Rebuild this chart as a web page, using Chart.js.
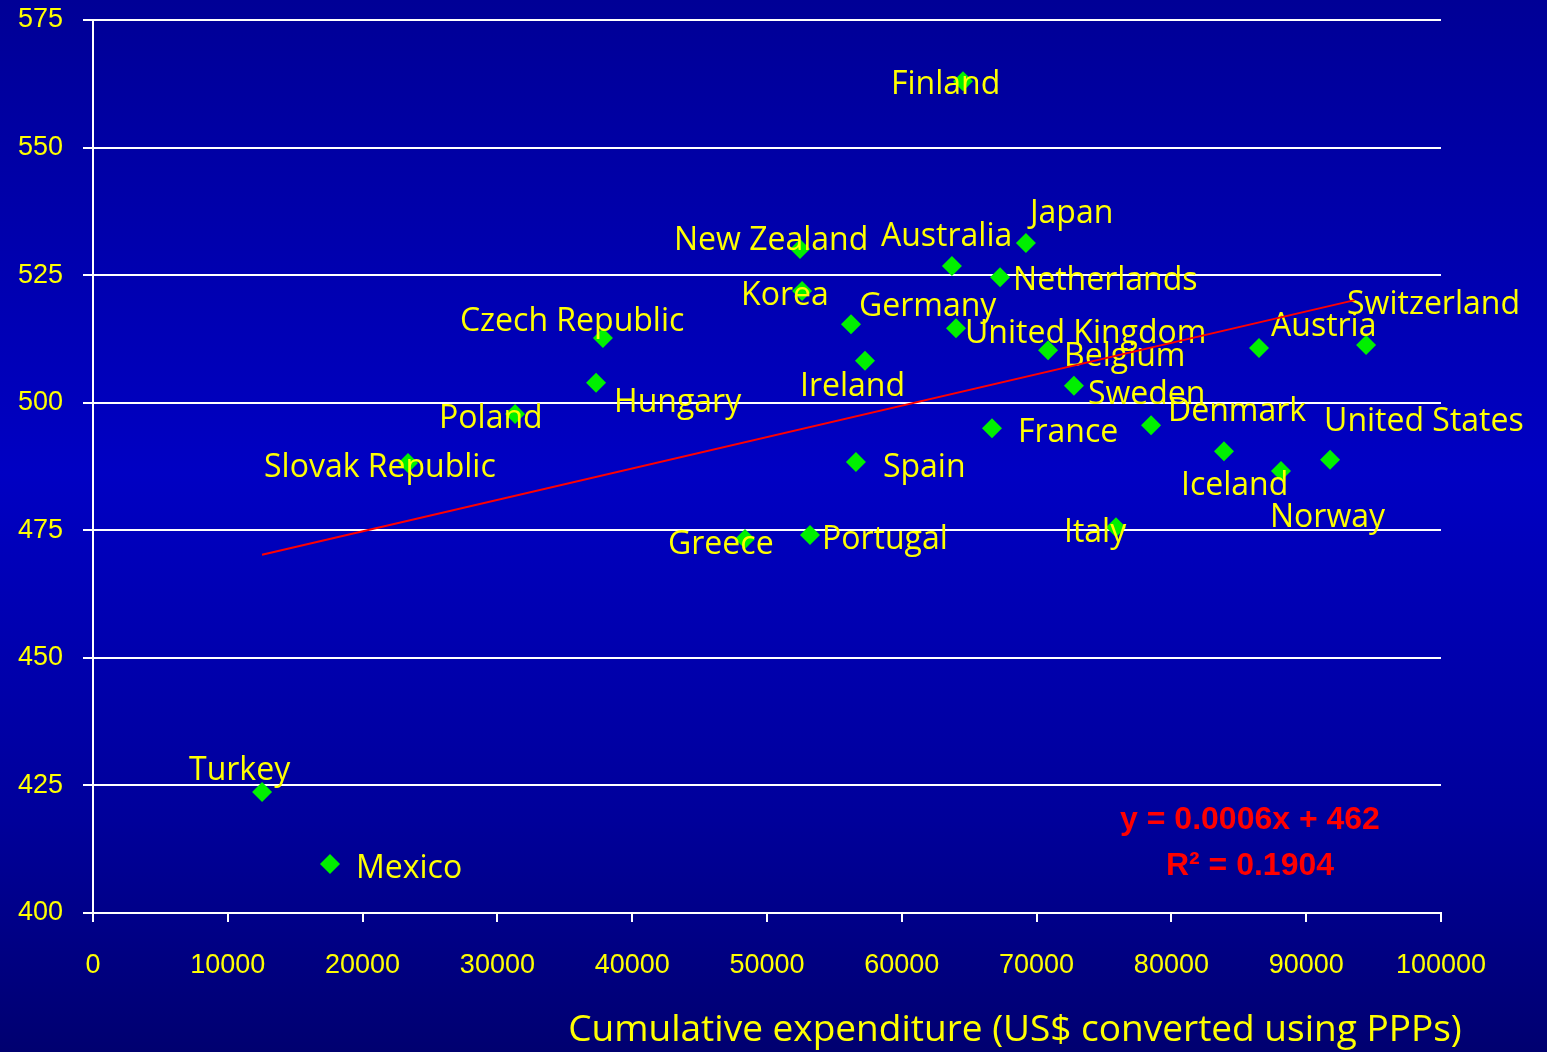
<!DOCTYPE html>
<html>
<head>
<meta charset="utf-8">
<title>Cumulative expenditure vs score</title>
<script src="https://cdn.jsdelivr.net/npm/chart.js@4.4.1/dist/chart.umd.min.js"></script>
<style>
  html, body {
    margin: 0;
    padding: 0;
  }
  body {
    width: 1547px;
    height: 1052px;
    overflow: hidden;
    background: linear-gradient(to bottom, #000096 0%, #0000c3 45%, #00009a 78%, #000070 100%);
  }
  #wrap {
    position: relative;
    width: 1547px;
    height: 1052px;
  }
</style>
</head>
<body>
<div id="wrap"><canvas id="myChart"></canvas></div>
<script>
'use strict';

/** @desc Countries shown in the scatter */
const COUNTRIES = [
  'Finland', 'Japan', 'New Zealand', 'Australia', 'Netherlands', 'Korea',
  'Germany', 'United Kingdom', 'Czech Republic', 'Ireland', 'Belgium',
  'Hungary', 'Sweden', 'Austria', 'Switzerland', 'Poland', 'Denmark',
  'France', 'Iceland', 'United States', 'Norway', 'Slovak Republic',
  'Spain', 'Greece', 'Portugal', 'Italy', 'Turkey', 'Mexico'
];

/** @desc Cumulative expenditure (US$ converted using PPPs) */
const EXPENDITURE = [
  64540, 69210, 52450, 63720, 67290, 52600,
  56230, 64020, 37830, 57270, 70850,
  37320, 72770, 86500, 94440, 31310, 78490,
  66690, 83900, 91770, 88130, 23370,
  56600, 48370, 53190, 75890, 12540, 17580
];

/** @desc Mean score */
const SCORES = [
  563.0, 531.3, 530.1, 526.8, 524.6, 521.9,
  515.4, 514.6, 512.7, 508.2, 510.3,
  503.9, 503.3, 510.7, 511.3, 497.8, 495.6,
  495.0, 490.5, 488.8, 486.6, 488.2,
  488.4, 473.3, 474.1, 475.6, 423.7, 409.6
];

/** @desc Linear trend line end points */
const TREND_X = [12540, 93600];
const TREND_Y = [470.2, 520.1];

/** @desc Tick values of both axes */
const X_TICKS = [0, 10000, 20000, 30000, 40000, 50000, 60000, 70000, 80000, 90000, 100000];
const Y_TICKS = [400, 425, 450, 475, 500, 525, 550, 575];

/** @desc Texts */
const X_TITLE = 'Cumulative expenditure (US$ converted using PPPs)';
const EQUATION = ['y = 0.0006x + 462', 'R² = 0.1904'];



/** @desc Pixel offset of every label from its point (left edge, middle) */
const LABEL_OFFSETS = {
  'Finland': [-72, 1], 'Japan': [4, -32], 'New Zealand': [-126, -11],
  'Australia': [-71, -32], 'Netherlands': [13, 1], 'Korea': [-61, 2],
  'Germany': [8, -20], 'United Kingdom': [9, 3], 'Czech Republic': [-143, -19],
  'Ireland': [-65, 23], 'Belgium': [16, 4], 'Hungary': [18, 17],
  'Sweden': [14, 6], 'Austria': [12, -24], 'Switzerland': [-19, -43],
  'Poland': [-76, 2], 'Denmark': [17, -16], 'France': [26, 2],
  'Iceland': [-43, 32], 'United States': [-6, -41], 'Norway': [-11, 44],
  'Slovak Republic': [-144, 2], 'Spain': [27, 3], 'Greece': [-77, 3],
  'Portugal': [12, 2], 'Italy': [-52, 3], 'Turkey': [-73, -24],
  'Mexico': [26, 2]
};

/** @desc Open Sans sits a little high with a middle baseline */
const LABEL_SHIFT_Y = 3;

const YELLOW = '#ffff00';
const LABEL_FONT = '32px "Open Sans"';

/** @desc Draws the country names right after the scatter points */
const LABELS_PLUGIN = {
  id: 'countryLabels',
  afterDatasetDraw(chart, args) {
    if (args.index !== 0) {
      return;
    }
    const ctx = chart.ctx;
    ctx.save();
    ctx.font = LABEL_FONT;
    ctx.fillStyle = YELLOW;
    ctx.textAlign = 'left';
    ctx.textBaseline = 'middle';
    args.meta.data.forEach((point, i) => {
      const name = COUNTRIES[i];
      const off = LABEL_OFFSETS[name] || [10, 0];
      ctx.fillText(name, point.x + off[0], point.y + off[1] + LABEL_SHIFT_Y);
    });
    ctx.restore();
  },
  afterDraw(chart) {
    const ctx = chart.ctx;
    ctx.save();
    ctx.fillStyle = YELLOW;
    ctx.font = '37px "Open Sans"';
    ctx.textAlign = 'center';
    ctx.textBaseline = 'middle';
    ctx.fillText(X_TITLE, 1015, 1030);
    ctx.fillStyle = '#ff0000';
    ctx.font = 'bold 32px "Liberation Sans"';
    ctx.fillText(EQUATION[0], 1250, 820);
    ctx.fillText(EQUATION[1], 1250, 866);
    ctx.restore();
  }
};

const DATA = {
  datasets: [{
    type: 'scatter',
    label: 'Countries',
    data: EXPENDITURE.map((x, i) => ({x: x, y: SCORES[i]})),
    pointStyle: 'rectRot',
    pointRadius: 10,
    pointHoverRadius: 10,
    backgroundColor: '#00f000',
    borderColor: '#00f000',
    borderWidth: 0,
    order: 2
  }, {
    type: 'line',
    label: 'Trend',
    data: TREND_X.map((x, i) => ({x: x, y: TREND_Y[i]})),
    borderColor: '#ff0000',
    borderWidth: 2,
    pointRadius: 0,
    fill: false,
    order: 1
  }]
};

const SCALES = {
  x: {
    type: 'linear',
    min: 0,
    max: 100000,
    afterBuildTicks: (scale) => {
      scale.ticks = X_TICKS.map((v) => ({value: v}));
    },
    afterFit: (scale) => {
      scale.height = 139;
      scale.paddingLeft = 0;
      scale.paddingRight = 0;
    },
    grid: {
      drawOnChartArea: false,
      drawTicks: true,
      tickLength: 9,
      color: '#ffffff',
      lineWidth: 2
    },
    border: {
      color: '#ffffff',
      width: 2
    },
    ticks: {
      color: YELLOW,
      padding: 27,
      maxRotation: 0,
      autoSkip: false,
      font: {family: '"Liberation Sans"', size: 27},
      callback: (value) => String(value)
    }
  },
  y: {
    type: 'linear',
    min: 400,
    max: 575,
    afterBuildTicks: (scale) => {
      scale.ticks = Y_TICKS.map((v) => ({value: v}));
    },
    afterFit: (scale) => {
      scale.width = 93;
      scale.paddingTop = 0;
      scale.paddingBottom = 0;
    },
    grid: {
      color: '#ffffff',
      lineWidth: 2,
      tickLength: 10
    },
    border: {
      color: '#ffffff',
      width: 2
    },
    ticks: {
      color: YELLOW,
      padding: 20,
      font: {family: '"Liberation Sans"', size: 27}
    }
  }
};

const OPTIONS = {
  responsive: true,
  maintainAspectRatio: false,
  animation: false,
  layout: {
    padding: {left: 0, top: 20, right: 106, bottom: 0}
  },
  plugins: {
    legend: {display: false},
    tooltip: {enabled: false}
  },
  scales: SCALES
};

const CTX = document.getElementById('myChart').getContext('2d');

let myChart = new Chart(CTX, {
  data: DATA,
  options: OPTIONS,
  plugins: [LABELS_PLUGIN]
});
</script>
</body>
</html>
